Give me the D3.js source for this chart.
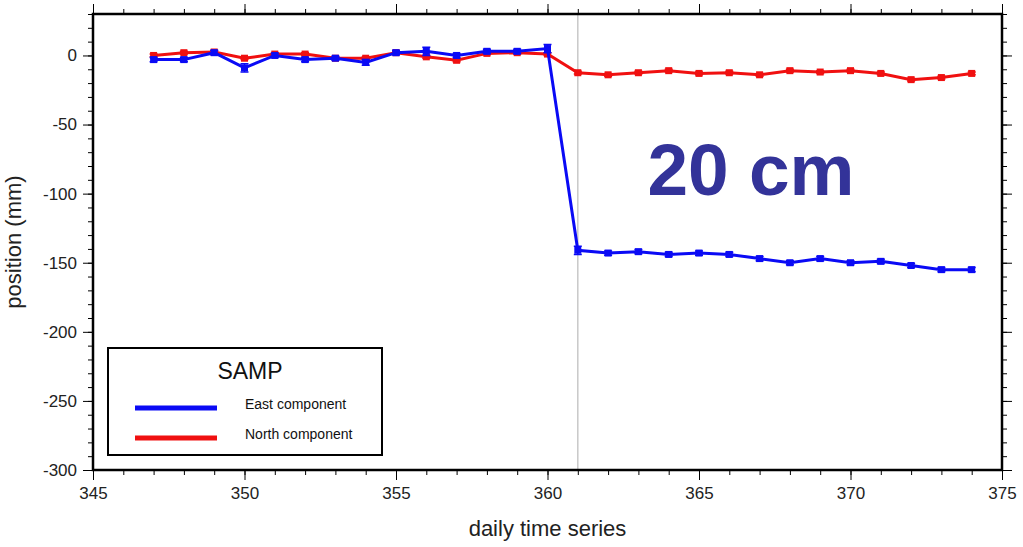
<!DOCTYPE html>
<html>
<head>
<meta charset="utf-8">
<script src="https://cdn.jsdelivr.net/npm/d3@7"></script>
<style>
  body { margin: 0; background: #fff; }
  svg text { font-family: "Liberation Sans", Arial, sans-serif; }
</style>
</head>
<body>
<div id="chart"></div>
<script>
'use strict'

// days of the series
const days = [347, 348, 349, 350, 351, 352, 353, 354, 355, 356, 357, 358, 359, 360,
              361, 362, 363, 364, 365, 366, 367, 368, 369, 370, 371, 372, 373, 374]

// east component (mm) and its error
const east = [-3, -3, 2, -9, 0, -3, -2, -5, 2, 3, 0, 3, 3, 5,
              -141, -143, -142, -144, -143, -144, -147, -150, -147, -150, -149, -152, -155, -155]
const eastErr = [1.5, 1.5, 1.5, 3, 1.5, 1.5, 1.5, 2, 1.5, 3, 1.5, 1.5, 1.5, 3,
                 3, 1.5, 1.5, 1.5, 1.5, 1.5, 1.5, 1.5, 1.5, 1.5, 1.5, 1.5, 1.5, 1.5]

// north component (mm) and its error
const north = [0, 2, 2.5, -2, 1, 1, -2, -2, 2, -1, -3.5, 1.5, 2, 1,
               -12.5, -14, -12.5, -11, -13, -12.5, -14, -11, -12, -11, -13, -17.5, -16, -13]
const northErr = [1, 1, 1, 1, 1, 1, 1, 1, 1, 1, 1, 1, 1, 1,
                  1, 1, 1, 1, 1, 1, 1, 1, 1, 1, 1, 1, 1, 1]

const xTicks = [345, 350, 355, 360, 365, 370, 375]
const yTicks = [0, -50, -100, -150, -200, -250, -300]
const eventDay = 361

const svgWidth = 1023
const svgHeight = 547
const margin = {left: 93, right: 21, top: 14, bottom: 77}
const width = svgWidth - margin.left - margin.right
const height = svgHeight - margin.top - margin.bottom

const svg = d3.select('#chart')
    .append('svg')
    .attr('width', svgWidth)
    .attr('height', svgHeight)
    .append('g')
    .attr('transform', `translate(${margin.left},${margin.top})`)

////////////////////////////////////
//////////// Scales ////////////////
////////////////////////////////////
const x = d3.scaleLinear().domain([345, 375]).range([0, width])
const y = d3.scaleLinear().domain([-300, 30]).range([height, 0])

////////////////////////////////////
//////////// Axes //////////////////
////////////////////////////////////
function styleAxis(g) {
    g.selectAll('.domain').remove()
    g.selectAll('line').attr('stroke', '#000').attr('stroke-width', 1)
}

// plain hyphen for negatives, like the original
const fmt = d => String(d)

// minor ticks, all four sides
svg.append('g').attr('transform', `translate(0,${height})`)
    .call(d3.axisBottom(x).ticks(30).tickSize(5).tickFormat(''))
    .call(styleAxis)
svg.append('g')
    .call(d3.axisTop(x).ticks(30).tickSize(5).tickFormat(''))
    .call(styleAxis)
svg.append('g')
    .call(d3.axisLeft(y).tickValues(d3.range(-300, 31, 10)).tickSize(5).tickFormat(''))
    .call(styleAxis)
svg.append('g').attr('transform', `translate(${width},0)`)
    .call(d3.axisRight(y).tickValues(d3.range(-300, 31, 10)).tickSize(5).tickFormat(''))
    .call(styleAxis)

// major ticks with labels
svg.append('g').attr('transform', `translate(0,${height})`)
    .call(d3.axisBottom(x).tickValues(xTicks).tickSize(10).tickPadding(7).tickFormat(fmt))
    .call(styleAxis)
    .selectAll('text')
    .attr('fill', '#222')
    .attr('font-size', '17px')
svg.append('g')
    .call(d3.axisTop(x).tickValues(xTicks).tickSize(10).tickFormat(''))
    .call(styleAxis)
svg.append('g')
    .call(d3.axisLeft(y).tickValues(yTicks).tickSize(10).tickPadding(6).tickFormat(fmt))
    .call(styleAxis)
    .selectAll('text')
    .attr('fill', '#222')
    .attr('font-size', '17px')
svg.append('g').attr('transform', `translate(${width},0)`)
    .call(d3.axisRight(y).tickValues(yTicks).tickSize(10).tickFormat(''))
    .call(styleAxis)

// vertical marker at the event
svg.append('line')
    .attr('x1', x(eventDay)).attr('x2', x(eventDay))
    .attr('y1', 0).attr('y2', height)
    .attr('stroke', '#c8c8c8')
    .attr('stroke-width', 1.5)

// frame
svg.append('rect')
    .attr('width', width)
    .attr('height', height)
    .attr('fill', 'none')
    .attr('stroke', '#000')
    .attr('stroke-width', 2.5)

// axis titles
svg.append('text')
    .attr('x', width / 2)
    .attr('y', height + 66)
    .attr('text-anchor', 'middle')
    .attr('font-size', '22px')
    .attr('fill', '#222')
    .text('daily time series')

svg.append('text')
    .attr('transform', `translate(${-72},${height / 2}) rotate(-90)`)
    .attr('text-anchor', 'middle')
    .attr('font-size', '22px')
    .attr('fill', '#222')
    .text('position (mm)')

////////////////////////////////////
//////////// series ////////////////
////////////////////////////////////
const series = [
    {name: 'North component', vals: north, err: northErr, color: '#f01010'},
    {name: 'East component', vals: east, err: eastErr, color: '#0a0af5'}
]

series.forEach(s => {
    const pts = days.map((d, i) => ({d: d, v: s.vals[i], e: s.err[i]}))
    const g = svg.append('g')

    g.append('path')
        .datum(pts)
        .attr('fill', 'none')
        .attr('stroke', s.color)
        .attr('stroke-width', 3)
        .attr('d', d3.line().x(p => x(p.d)).y(p => y(p.v)))

    // error bars
    g.selectAll('.err')
        .data(pts)
        .join('path')
        .attr('fill', 'none')
        .attr('stroke', s.color)
        .attr('stroke-width', 1.5)
        .attr('d', p => {
            const cx = x(p.d), y0 = y(p.v - p.e), y1 = y(p.v + p.e)
            return `M${cx - 4},${y0}H${cx + 4}M${cx},${y0}V${y1}M${cx - 4},${y1}H${cx + 4}`
        })

    // square markers
    g.selectAll('rect')
        .data(pts)
        .join('rect')
        .attr('x', p => x(p.d) - 3.5)
        .attr('y', p => y(p.v) - 3.5)
        .attr('width', 7)
        .attr('height', 7)
        .attr('fill', s.color)
})

// big annotation
svg.append('text')
    .attr('x', 658)
    .attr('y', 181)
    .attr('text-anchor', 'middle')
    .attr('font-size', '73px')
    .attr('font-weight', 'bold')
    .attr('fill', '#333399')
    .text('20 cm')

////////////////////////////////////
//////////// legend ////////////////
////////////////////////////////////
const legend = svg.append('g').attr('transform', `translate(${108 - margin.left},${348 - margin.top})`)
legend.append('rect')
    .attr('width', 274)
    .attr('height', 107)
    .attr('fill', '#fff')
    .attr('stroke', '#000')
    .attr('stroke-width', 2)
legend.append('text')
    .attr('x', 142)
    .attr('y', 31)
    .attr('text-anchor', 'middle')
    .attr('font-size', '23px')
    .attr('fill', '#111')
    .text('SAMP')

const legendItems = [series[1], series[0]]
legendItems.forEach((s, i) => {
    legend.append('line')
        .attr('x1', 27).attr('x2', 109)
        .attr('y1', 60 + i * 30).attr('y2', 60 + i * 30)
        .attr('stroke', s.color)
        .attr('stroke-width', 5)
    legend.append('text')
        .attr('x', 137)
        .attr('y', 61 + i * 30)
        .attr('font-size', '14px')
        .attr('fill', '#111')
        .text(s.name)
})
</script>
</body>
</html>
